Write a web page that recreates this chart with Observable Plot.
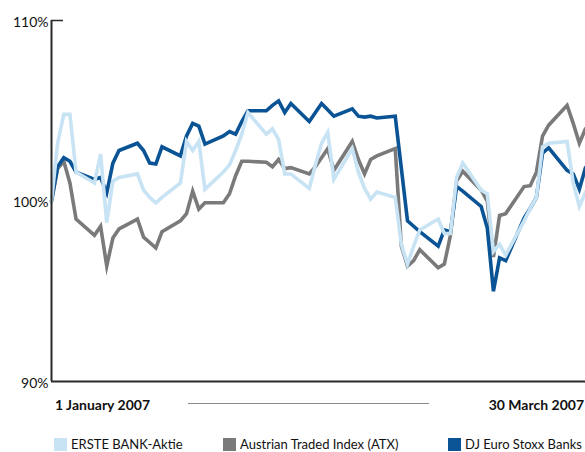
<!DOCTYPE html>
<html>
<head>
<meta charset="utf-8">
<script src="https://cdn.jsdelivr.net/npm/d3@7"></script>
<script src="https://cdn.jsdelivr.net/npm/@observablehq/plot@0.6"></script>
<style>
  body { margin: 0; background: #fff; }
  #wrap { position: relative; width: 585px; height: 452px; overflow: hidden; font-family: Lato, "Open Sans", sans-serif; color: #111; }
  #wrap svg { position: absolute; left: 0; top: 0; }
  .lbl { position: absolute; white-space: nowrap; line-height: 1; }
  .date { font-weight: 700; font-size: 14px; top: 398px; }
  .sep { position: absolute; left: 188px; width: 241px; top: 403px; height: 0; border-top: 1.5px solid #8a8a8a; }
  .sw { position: absolute; width: 13px; height: 13px; top: 438px; }
  .leg { font-size: 13px; top: 438px; }
</style>
</head>
<body>
<div id="wrap"></div>
<script>
// ---- data (index, 1 January 2007 = 100%) ----
const dates = [
  "2007-01-01","2007-01-02","2007-01-03","2007-01-04","2007-01-05",
  "2007-01-08","2007-01-09","2007-01-10","2007-01-11","2007-01-12",
  "2007-01-15","2007-01-16","2007-01-17","2007-01-18","2007-01-19",
  "2007-01-22","2007-01-23","2007-01-24","2007-01-25","2007-01-26",
  "2007-01-29","2007-01-30","2007-01-31","2007-02-01","2007-02-02",
  "2007-02-05","2007-02-06","2007-02-07","2007-02-08","2007-02-09",
  "2007-02-12","2007-02-13","2007-02-14","2007-02-15","2007-02-16",
  "2007-02-19","2007-02-20","2007-02-21","2007-02-22","2007-02-23",
  "2007-02-26","2007-02-27","2007-02-28","2007-03-01","2007-03-02",
  "2007-03-05","2007-03-06","2007-03-07","2007-03-08","2007-03-09",
  "2007-03-12","2007-03-13","2007-03-14","2007-03-15","2007-03-16",
  "2007-03-19","2007-03-20","2007-03-21","2007-03-22","2007-03-23",
  "2007-03-26","2007-03-27","2007-03-28","2007-03-29"
];
const erste = [
  100, 103.2, 104.8, 104.8, 101.6,
  101.0, 102.6, 98.8, 101.1, 101.3,
  101.5, 100.6, 100.2, 99.9, 100.2,
  101.0, 103.3, 102.8, 103.3, 100.65,
  101.6, 102.0, 102.8, 103.7, 104.9,
  103.7, 104.0, 103.4, 101.5, 101.5,
  100.7, 102.0, 103.2, 103.8, 101.2,
  102.9, 101.6, 100.7, 100.1, 100.5,
  100.2, 97.6, 96.5, 97.5, 98.4,
  99.0, 98.2, 98.2, 101.3, 102.1,
  100.6, 100.4, 97.2, 97.6, 97.0,
  98.9, 99.6, 100.2, 103.0, 103.2,
  103.3, 101.0, 99.7, 100.5
];
const atx = [
  100, 101.8, 102.2, 101.0, 99.0,
  98.1, 98.6, 96.4, 97.95, 98.45,
  99.0, 98.0, 97.7, 97.4, 98.3,
  98.9, 99.3, 100.55, 99.55, 99.9,
  99.9, 100.4, 101.4, 102.2, 102.2,
  102.15, 101.9, 102.3, 101.8, 101.85,
  101.5, 101.9, 102.4, 102.9, 101.7,
  103.3, 102.3, 101.5, 102.3, 102.5,
  102.9, 97.5, 96.4, 96.7, 97.3,
  96.3, 96.5, 98.1, 101.1, 101.65,
  100.6, 100.0, 96.9, 99.2, 99.3,
  100.8, 100.85, 101.6, 103.6, 104.2,
  105.3, 104.3, 103.2, 104.0
];
const djStoxx = [
  100, 101.9, 102.4, 102.2, 101.6,
  101.2, 101.3, 100.45, 102.1, 102.8,
  103.2, 102.8, 102.1, 102.05, 103.0,
  102.5, 103.6, 104.3, 104.15, 103.15,
  103.6, 103.85, 103.7, 104.4, 105.0,
  105.0, 105.3, 105.55, 104.9, 105.4,
  104.4, 104.9, 105.4, 105.05, 104.7,
  105.1, 104.7, 104.65, 104.7, 104.6,
  104.7, 101.8, 98.9, 98.6, 98.3,
  97.5, 98.4, 98.3, 100.8, 100.55,
  99.7, 98.5, 95.0, 96.85, 96.7,
  99.05, 99.6, 100.2, 102.65, 102.95,
  101.7, 101.5, 100.65, 101.85
];
const seriesNames = ["ERSTE BANK-Aktie", "Austrian Traded Index (ATX)", "DJ Euro Stoxx Banks"];
const seriesColors = ["#c7e3f4", "#7a7a7a", "#0a5394"];
const yTicks = [90, 100, 110];
const dateLabels = ["1 January 2007", "30 March 2007"];

// ---- build ----
const parsed = dates.map(d => new Date(d + "T00:00:00Z"));
const rowsOf = vals => vals.map((v, i) => ({date: parsed[i], value: v}));
const font = "Lato, 'Open Sans', sans-serif";

const chart = Plot.plot({
  width: 585,
  height: 452,
  marginLeft: 51,
  marginRight: 0,
  marginTop: 20,
  marginBottom: 71,
  style: {background: "transparent", fontFamily: font, overflow: "visible"},
  x: {type: "utc", domain: [parsed[0], parsed[parsed.length - 1]], axis: null},
  y: {domain: [90, 110], axis: null},
  marks: [
    Plot.lineY(rowsOf(atx), {x: "date", y: "value", stroke: seriesColors[1], strokeWidth: 3.6, strokeLinejoin: "miter", strokeMiterlimit: 6}),
    Plot.lineY(rowsOf(djStoxx), {x: "date", y: "value", stroke: seriesColors[2], strokeWidth: 3.6, strokeLinejoin: "miter", strokeMiterlimit: 6}),
    Plot.lineY(rowsOf(erste), {x: "date", y: "value", stroke: seriesColors[0], strokeWidth: 3.6, strokeLinejoin: "miter", strokeMiterlimit: 6}),
    Plot.ruleX([parsed[0]], {stroke: "#2a2a2a", strokeWidth: 2}),
    Plot.ruleY([yTicks[0]], {stroke: "#2a2a2a", strokeWidth: 2}),
    Plot.tickY([yTicks[yTicks.length - 1]], {stroke: "#2a2a2a", strokeWidth: 1.5, insetRight: 522}),
    Plot.axisY(yTicks, {label: null, tickSize: 0, tickPadding: 3, dy: 2, tickFormat: d => d + "%", fontSize: 14, fill: "#111", fontFamily: font})
  ]
});

const wrap = document.getElementById("wrap");
wrap.appendChild(chart);

function addDiv(cls, text, style) {
  const el = document.createElement("div");
  el.className = cls;
  if (text) el.textContent = text;
  Object.assign(el.style, style);
  wrap.appendChild(el);
  return el;
}
addDiv("lbl date", dateLabels[0], {left: "55px"});
addDiv("sep", "", {});
addDiv("lbl date", dateLabels[1], {right: "1px"});

const legX = [54, 223, 448];
seriesNames.forEach((name, i) => {
  addDiv("sw", "", {left: legX[i] + "px", background: seriesColors[i]});
  addDiv("lbl leg", name, {left: (legX[i] + 17) + "px"});
});
</script>
</body>
</html>
